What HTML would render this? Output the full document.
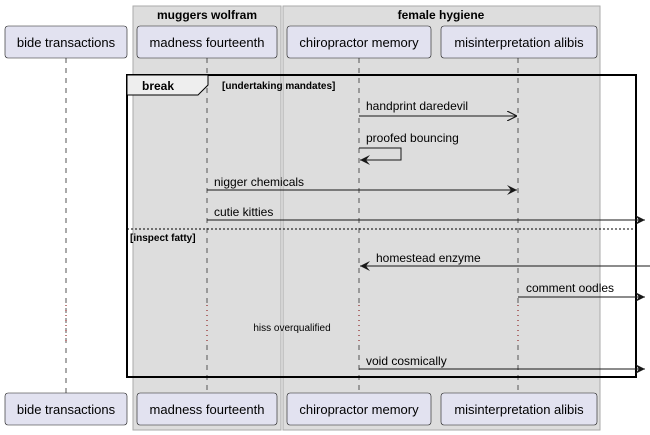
<!DOCTYPE html>
<html><head><meta charset="utf-8"><style>
html,body{margin:0;padding:0;background:#fff;}
svg{display:block;font-family:"Liberation Sans",sans-serif;}
</style></head><body>
<svg width="650" height="435" viewBox="0 0 650 435" xmlns="http://www.w3.org/2000/svg">
<defs>
<marker id="fa" viewBox="0 0 10 10" refX="10" refY="5" markerWidth="10" markerHeight="10" markerUnits="userSpaceOnUse" orient="auto"><path d="M0,0 L10,5 L0,10 L4,5 Z" fill="#181818"/></marker>
<marker id="oa" viewBox="0 0 10 10" refX="10" refY="5" markerWidth="10" markerHeight="10" markerUnits="userSpaceOnUse" orient="auto"><path d="M0,0 L10,5 L0,10" fill="none" stroke="#181818" stroke-width="1.2"/></marker>
</defs>
<g>
<rect x="133" y="6" width="148" height="424" fill="#DDDDDD" stroke="#AAAAAA"/>
<text x="207" y="19" font-size="12" font-weight="bold" text-anchor="middle">muggers wolfram</text></g>
<g>
<rect x="283" y="6" width="317" height="424" fill="#DDDDDD" stroke="#AAAAAA"/>
<text x="441" y="19" font-size="12" font-weight="bold" text-anchor="middle">female hygiene</text></g>
<g stroke="#555" stroke-dasharray="5,5">
<line x1="66" y1="58" x2="66" y2="393"/><line x1="207" y1="58" x2="207" y2="305"/><line x1="207" y1="345" x2="207" y2="393"/>
<line x1="359" y1="58" x2="359" y2="305"/><line x1="359" y1="345" x2="359" y2="393"/>
<line x1="518" y1="58" x2="518" y2="305"/><line x1="518" y1="345" x2="518" y2="393"/>
</g>
<g stroke="#800000" stroke-dasharray="1,4">
<line x1="66" y1="305" x2="66" y2="345"/><line x1="207" y1="305" x2="207" y2="345"/><line x1="359" y1="305" x2="359" y2="345"/><line x1="518" y1="305" x2="518" y2="345"/>
</g>
<text x="292" y="331" font-size="10" text-anchor="middle">hiss overqualified</text>
<g font-size="13" text-anchor="middle" fill="#000">
<g><rect x="5" y="26" width="122" height="32" rx="3" fill="#E2E2F0" stroke="#181818" stroke-width="0.6"/><text x="66" y="47">bide transactions</text></g>
<g><rect x="137" y="26" width="140" height="32" rx="3" fill="#E2E2F0" stroke="#181818" stroke-width="0.6"/><text x="207" y="47">madness fourteenth</text></g>
<g><rect x="287" y="26" width="144" height="32" rx="3" fill="#E2E2F0" stroke="#181818" stroke-width="0.6"/><text x="359" y="47">chiropractor memory</text></g>
<g><rect x="441" y="26" width="156" height="32" rx="3" fill="#E2E2F0" stroke="#181818" stroke-width="0.6"/><text x="519" y="47">misinterpretation alibis</text></g>
<g><rect x="5" y="393" width="122" height="32" rx="3" fill="#E2E2F0" stroke="#181818" stroke-width="0.6"/><text x="66" y="414">bide transactions</text></g>
<g><rect x="137" y="393" width="140" height="32" rx="3" fill="#E2E2F0" stroke="#181818" stroke-width="0.6"/><text x="207" y="414">madness fourteenth</text></g>
<g><rect x="287" y="393" width="144" height="32" rx="3" fill="#E2E2F0" stroke="#181818" stroke-width="0.6"/><text x="359" y="414">chiropractor memory</text></g>
<g><rect x="441" y="393" width="156" height="32" rx="3" fill="#E2E2F0" stroke="#181818" stroke-width="0.6"/><text x="519" y="414">misinterpretation alibis</text></g>
</g>
<g>
<rect x="127" y="75" width="509" height="302" fill="none" stroke="#000" stroke-width="2"/>
<path d="M127,75 L208,75 L208,85 L198,95 L127,95 Z" fill="#EEEEEE" stroke="#000" stroke-width="1"/>
<text x="142" y="90" font-size="12" font-weight="bold">break</text>
<text x="222" y="89" font-size="10" font-weight="bold">[undertaking mandates]</text>
<line x1="127" y1="229" x2="636" y2="229" stroke="#000" stroke-dasharray="2,2"/>
<text x="130" y="241" font-size="10" font-weight="bold">[inspect fatty]</text>
</g>
<g font-size="12" stroke-width="1">
<g><line x1="359" y1="116" x2="517" y2="116" stroke="#181818" marker-end="url(#oa)"/><text x="366" y="110">handprint daredevil</text></g>
<g><polyline points="359,148 401,148 401,160 360,160" fill="none" stroke="#181818" marker-end="url(#fa)"/><text x="366" y="142">proofed bouncing</text></g>
<g><line x1="207" y1="190" x2="517" y2="190" stroke="#181818" marker-end="url(#fa)"/><text x="214" y="186">nigger chemicals</text></g>
<g><line x1="207" y1="220" x2="645" y2="220" stroke="#181818" marker-end="url(#fa)"/><text x="214" y="216">cutie kitties</text></g>
<g><line x1="650" y1="266" x2="360" y2="266" stroke="#181818" marker-end="url(#fa)"/><text x="376" y="262">homestead enzyme</text></g>
<g><line x1="518" y1="297" x2="645" y2="297" stroke="#181818" marker-end="url(#fa)"/><text x="526" y="292">comment oodles</text></g>
<g><line x1="359" y1="369" x2="645" y2="369" stroke="#181818" marker-end="url(#fa)"/><text x="366" y="365">void cosmically</text></g>
</g>
</svg>
</body></html>
